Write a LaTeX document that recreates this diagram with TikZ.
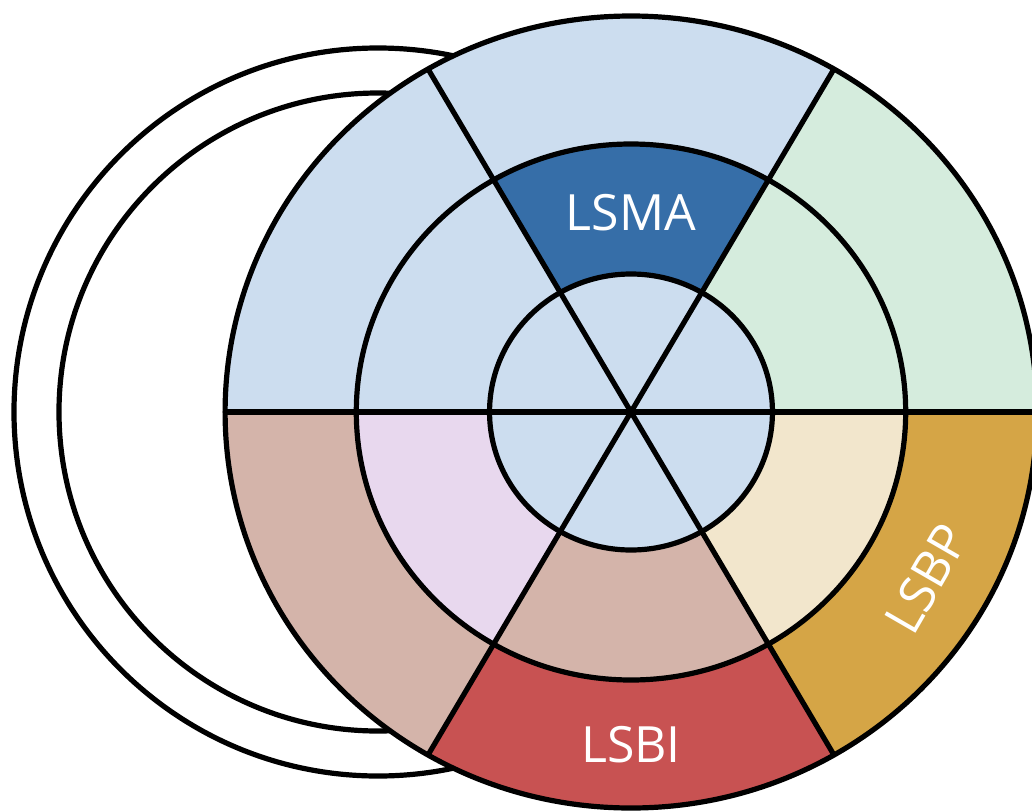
\documentclass[tikz,border=0pt]{standalone}
\usepackage{fontspec}
\setmainfont{Open Sans}
\usepackage{tikz}
\usetikzlibrary{positioning,calc}
\definecolor{paleblue}{RGB}{204,221,239}
\definecolor{deepblue}{RGB}{54,110,168}
\definecolor{palegreen}{RGB}{213,236,221}
\definecolor{gold}{RGB}{213,165,70}
\definecolor{brick}{RGB}{200,82,82}
\definecolor{tan}{RGB}{212,180,170}
\definecolor{cream}{RGB}{242,230,204}
\definecolor{lavender}{RGB}{232,216,238}
\tikzset{
    x=0.5pt,
    y=0.5pt,
    rim/.style = {
        draw=black,
        line width=2.6pt
    },
    segname/.style = {
        text=white,
        font=\fontsize{25}{30}\selectfont,
        inner sep=0pt
    },
}
% ring piece: colour, inner r, outer r, from angle, to angle
\newcommand{\ringpiece}[5]{%
    \fill[#1] (#4:#3) arc[start angle=#4, end angle=#5, radius=#3]
        -- (#5:#2) arc[start angle=#5, end angle=#4, radius=#2] -- cycle;}

\begin{document}
\begin{tikzpicture}
    \useasboundingbox (-631,-398) rectangle (401,412);

    % circles behind
    \draw[rim] (-253,0) circle[radius=364];
    \draw[rim] (-253,0) circle[radius=319];

    \begin{scope}[xscale=1.025]
        \fill[white] (0,0) circle[radius=396];
        % outer ring
        \ringpiece{palegreen}{268}{396}{0}{60}
        \ringpiece{paleblue}{268}{396}{60}{120}
        \ringpiece{paleblue}{268}{396}{120}{180}
        \ringpiece{tan}{268}{396}{180}{240}
        \ringpiece{brick}{268}{396}{240}{300}
        \ringpiece{gold}{268}{396}{300}{360}
        % middle ring
        \ringpiece{palegreen}{138}{268}{0}{60}
        \ringpiece{deepblue}{138}{268}{60}{120}
        \ringpiece{paleblue}{138}{268}{120}{180}
        \ringpiece{lavender}{138}{268}{180}{240}
        \ringpiece{tan}{138}{268}{240}{300}
        \ringpiece{cream}{138}{268}{300}{360}
        % core
        \fill[paleblue] (0,0) circle[radius=138];

        \draw[rim] (0,0) circle[radius=396];
        \draw[rim] (0,0) circle[radius=268];
        \draw[rim] (0,0) circle[radius=138];
        \draw[rim] (180:396) -- (0:396);
        \draw[rim] (240:396) -- (60:396);
        \draw[rim] (300:396) -- (120:396);

        \node[segname] (lsma) at (90:199) {LSMA};
        \node[segname] (lsbi) at (270:333) {LSBI};
        \node[segname, rotate=60] (lsbp) at (-30:333) {LSBP};
    \end{scope}
\end{tikzpicture}
\end{document}
